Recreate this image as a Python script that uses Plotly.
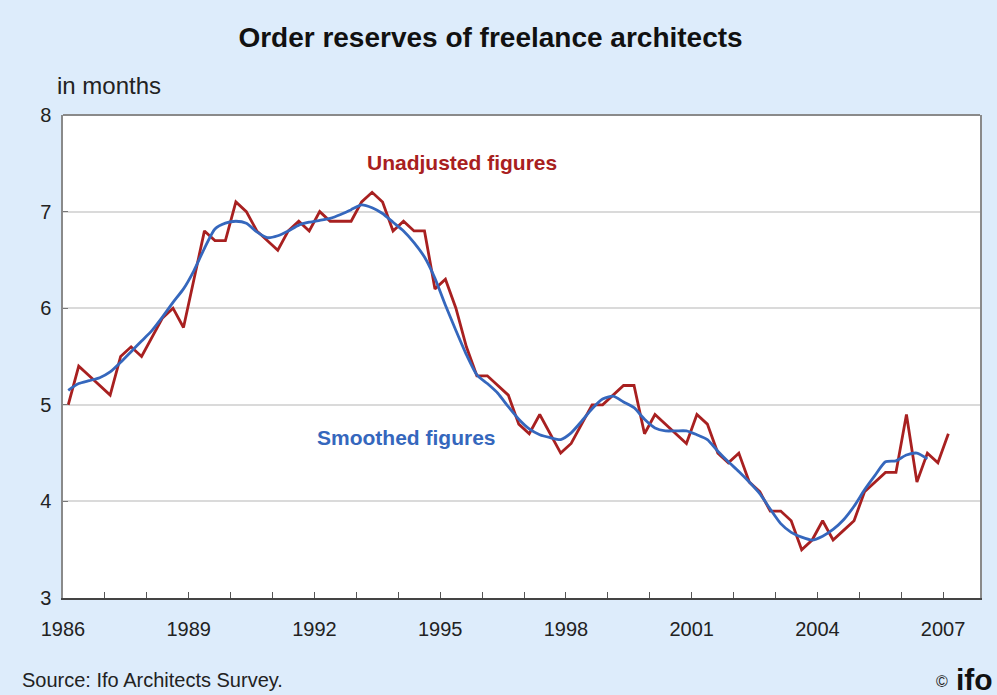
import plotly.graph_objects as go

# Quarterly data, 1986Q1 .. 2007Q1
start_year = 1986
unadjusted = [5.0, 5.4, 5.3, 5.2, 5.1, 5.5, 5.6, 5.5, 5.7, 5.9, 6.0, 5.8,
              6.3, 6.8, 6.7, 6.7, 7.1, 7.0, 6.8, 6.7, 6.6, 6.8, 6.9, 6.8,
              7.0, 6.9, 6.9, 6.9, 7.1, 7.2, 7.1, 6.8, 6.9, 6.8, 6.8, 6.2,
              6.3, 6.0, 5.6, 5.3, 5.3, 5.2, 5.1, 4.8, 4.7, 4.9, 4.7, 4.5,
              4.6, 4.8, 5.0, 5.0, 5.1, 5.2, 5.2, 4.7, 4.9, 4.8, 4.7, 4.6,
              4.9, 4.8, 4.5, 4.4, 4.5, 4.2, 4.1, 3.9, 3.9, 3.8, 3.5, 3.6,
              3.8, 3.6, 3.7, 3.8, 4.1, 4.2, 4.3, 4.3, 4.9, 4.2, 4.5, 4.4,
              4.7]
smoothed = [5.15, 5.22, 5.25, 5.28, 5.34, 5.44, 5.55, 5.66, 5.77, 5.91, 6.06, 6.20,
            6.39, 6.62, 6.82, 6.88, 6.90, 6.88, 6.79, 6.73, 6.75, 6.80, 6.86, 6.89,
            6.91, 6.93, 6.97, 7.02, 7.07, 7.04, 6.98, 6.89, 6.80, 6.68, 6.53, 6.31,
            6.03, 5.77, 5.52, 5.31, 5.22, 5.12, 4.98, 4.85, 4.75, 4.69, 4.66, 4.64,
            4.71, 4.83, 4.96, 5.06, 5.09, 5.03, 4.97, 4.85, 4.76, 4.73, 4.73, 4.73,
            4.69, 4.64, 4.52, 4.41, 4.31, 4.20, 4.08, 3.92, 3.77, 3.68, 3.63, 3.60,
            3.64, 3.71, 3.81, 3.95, 4.12, 4.27, 4.41, 4.42, 4.48, 4.50, 4.44]

year_ticks = list(range(1986, 2008))
year_labels = [str(y) if (y - 1986) % 3 == 0 else "" for y in year_ticks]
y_ticks = [3, 4, 5, 6, 7, 8]

x_unadj = [start_year + (i + 0.5) / 4 for i in range(len(unadjusted))]
x_smooth = [start_year + (i + 0.5) / 4 for i in range(len(smoothed))]

RED = "#a82020"
BLUE = "#3567bd"
FONT = "Liberation Sans, Arial, sans-serif"

fig = go.Figure()
fig.add_trace(go.Scatter(x=x_unadj, y=unadjusted, mode="lines",
                         line=dict(color=RED, width=2.8), name="Unadjusted figures"))
fig.add_trace(go.Scatter(x=x_smooth, y=smoothed, mode="lines",
                         line=dict(color=BLUE, width=2.8, shape="spline", smoothing=0.6),
                         name="Smoothed figures"))

fig.update_layout(
    width=997, height=695,
    margin=dict(l=63, r=17, t=115, b=97),
    paper_bgcolor="#ddecfb",
    plot_bgcolor="white",
    showlegend=False,
    font=dict(family=FONT, color="#222222", size=20),
    title=dict(text="<b>Order reserves of freelance architects</b>",
               x=0.492, xanchor="center", y=0.947, yanchor="middle",
               font=dict(family=FONT, size=28, color="#111111")),
)

fig.update_xaxes(
    range=[1986, 2007.88], tickmode="array", tickvals=year_ticks, ticktext=year_labels,
    ticks="inside", ticklen=6, tickcolor="#555555", tickwidth=1,
    showline=True, linecolor="#444444", linewidth=1.5,
    showgrid=False, zeroline=False, ticklabelstandoff=12,
    tickfont=dict(size=20, color="#222222"),
)
fig.update_yaxes(
    range=[3, 8], tickmode="array", tickvals=y_ticks,
    ticks="inside", ticklen=5, tickcolor="#777777",
    showline=True, linecolor="#8a8a8a", linewidth=1.5, mirror=True,
    showgrid=True, gridcolor="#dadada", gridwidth=1.5, zeroline=False,
    tickfont=dict(size=20, color="#222222"), ticklabelstandoff=6,
)

# top border of the plot frame
fig.add_shape(type="line", xref="paper", yref="paper", x0=0, x1=1, y0=1, y1=1,
              line=dict(color="#8a8a8a", width=2))

fig.add_annotation(text="<b>Unadjusted figures</b>", x=1995.52, y=7.51, xref="x", yref="y",
                   showarrow=False, font=dict(family=FONT, size=21, color=RED))
fig.add_annotation(text="<b>Smoothed figures</b>", x=1994.2, y=4.66, xref="x", yref="y",
                   showarrow=False, font=dict(family=FONT, size=21, color=BLUE))
fig.add_annotation(text="in months", xref="paper", yref="paper", x=-0.009, y=1.062,
                   xanchor="left", yanchor="middle", showarrow=False,
                   font=dict(family=FONT, size=24, color="#222222"))
fig.add_annotation(text="Source: Ifo Architects Survey.", xref="paper", yref="paper",
                   x=-0.047, y=-0.170, xanchor="left", yanchor="middle", showarrow=False,
                   font=dict(family=FONT, size=20, color="#222222"))
fig.add_annotation(text="©", xref="paper", yref="paper", x=0.9586, y=-0.172,
                   xanchor="center", yanchor="middle", showarrow=False,
                   font=dict(family=FONT, size=16, color="#222222"))
fig.add_annotation(text="<b>ifo</b>", xref="paper", yref="paper", x=1.0163, y=-0.168,
                   xanchor="right", yanchor="middle", showarrow=False,
                   font=dict(family=FONT, size=30, color="#111111"))

fig.write_html("out.html", config={"displayModeBar": False},
               post_script="document.body.style.margin='0';document.body.style.padding='0';")
